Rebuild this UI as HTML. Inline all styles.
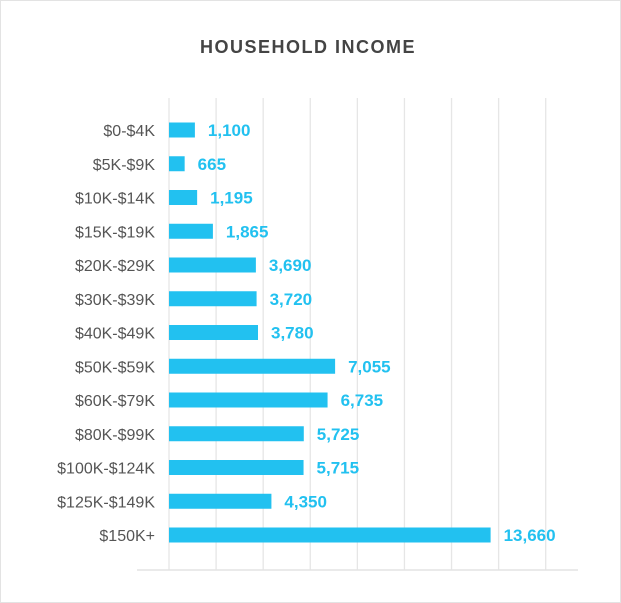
<!DOCTYPE html>
<html><head><meta charset="utf-8"><style>
html,body{margin:0;padding:0;background:#fff}
#card{position:absolute;left:0;top:0;width:619px;height:601px;border:1px solid #e3e3e3;background:#fff}
svg{position:absolute;left:0;top:0}
</style></head><body>
<div id="card"></div>
<svg id="chart" width="621" height="603">
<text x="308" y="53" text-anchor="middle" font-family="Liberation Sans, sans-serif" font-weight="bold" font-size="18" letter-spacing="1.5" fill="#444">HOUSEHOLD INCOME</text>
</svg>
<script>
const categories=["$0-$4K","$5K-$9K","$10K-$14K","$15K-$19K","$20K-$29K","$30K-$39K","$40K-$49K","$50K-$59K","$60K-$79K","$80K-$99K","$100K-$124K","$125K-$149K","$150K+"];
const values=[1100,665,1195,1865,3690,3720,3780,7055,6735,5725,5715,4350,13660];
const ticks=[0,2000,4000,6000,8000,10000,12000,14000,16000];
const svg=document.getElementById('chart');
const NS='http://www.w3.org/2000/svg';
const x0=169,x1=545.7,xmax=16000;
function xs(v){return x0+(x1-x0)*v/xmax;}
const yTop=130,yStep=33.75;
function ys(i){return yTop+i*yStep;}
function mk(t,a){const e=document.createElementNS(NS,t);for(const k in a)e.setAttribute(k,a[k]);svg.appendChild(e);return e;}
ticks.forEach((t,i)=>{
  const g=mk('line',{x1:xs(t),x2:xs(t),y1:98,y2:570,stroke:'#e6e6e6','stroke-width':1.3});
  
  
});
const ax=mk('line',{x1:137,x2:578,y1:570,y2:570,stroke:'#e3e3e3','stroke-width':1.5});


categories.forEach((c,i)=>{
  const y=ys(i);
  const lb=mk('text',{x:155,y:y+6,'text-anchor':'end','font-family':'Liberation Sans, sans-serif','font-size':16,fill:'#555'});
  lb.textContent=c;
  
  
  const b=mk('rect',{x:xs(0),y:y-7.5,width:xs(values[i])-xs(0),height:15,fill:'#22c1f0'});
  
  
  const v=mk('text',{x:xs(values[i])+13,y:y+6,'font-family':'Liberation Sans, sans-serif','font-size':17,'font-weight':'bold',fill:'#22c1f0'});
  v.textContent=values[i].toLocaleString('en-US');
  
  
});
</script>
</body></html>
